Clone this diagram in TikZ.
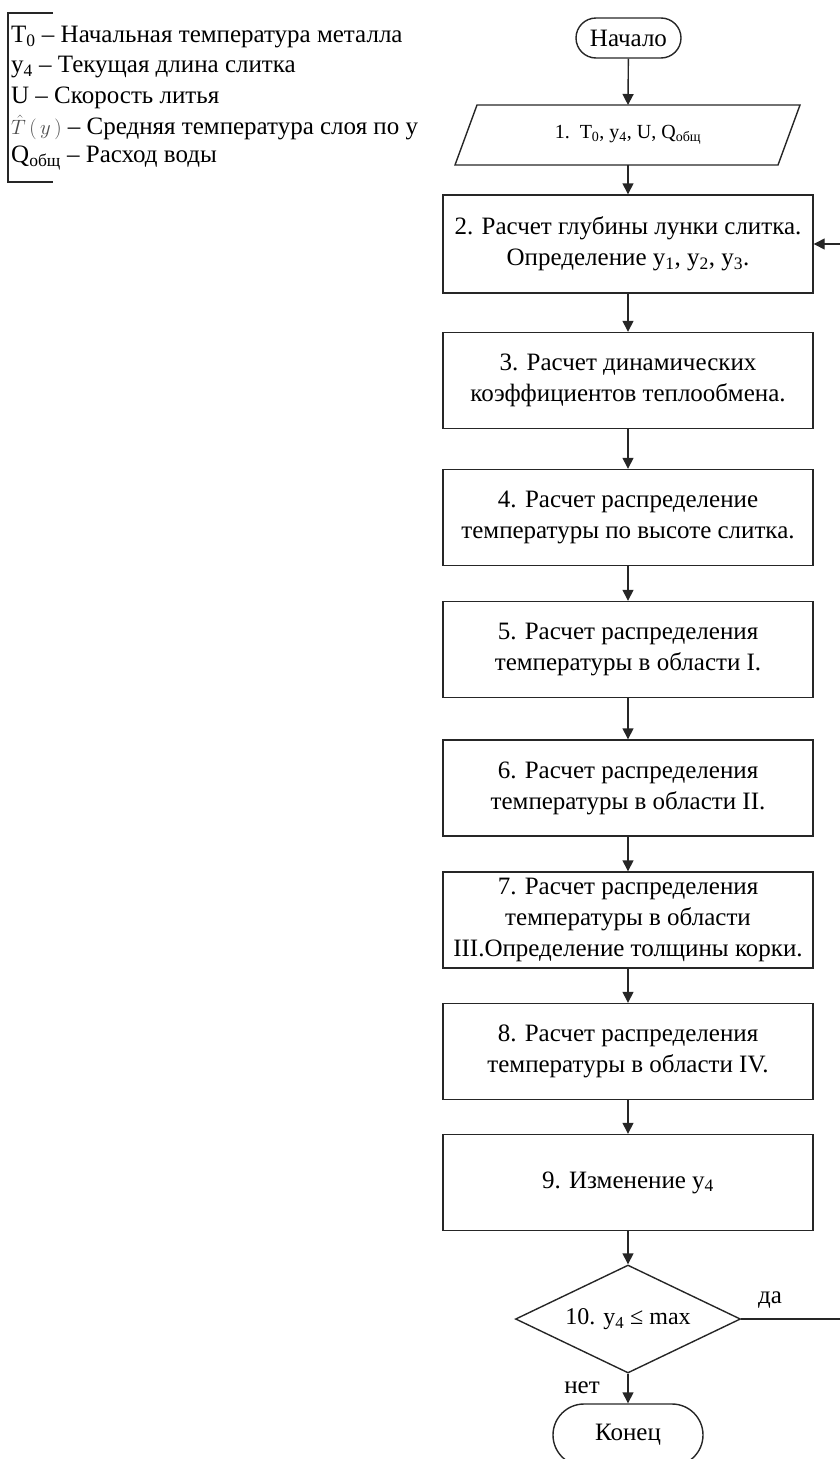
\documentclass[tikz,border=0pt]{standalone}
\usepackage{fontspec}
\setmainfont{Liberation Serif}
\usetikzlibrary{arrows.meta,shapes.geometric,shapes.misc}
\newcommand\boxfont{\fontsize{25}{31}\selectfont}
\newcommand\legfont{\fontsize{25}{30}\selectfont}
\begin{document}
\begin{tikzpicture}[x=1pt,y=-1pt,
  ln/.style={draw=black!85, line width=1.4pt},
  arr/.style={ln, -{Triangle[length=11pt,width=11pt]}},
  procbox/.style={draw=black!85, line width=1.4pt, minimum width=370pt, minimum height=96pt, inner sep=0pt, align=center, font=\boxfont},
  term/.style={draw=black!85, line width=1.4pt, rounded rectangle, inner sep=0pt, font=\boxfont},
  leg/.style={anchor=west, inner sep=0pt, font=\legfont},
  lbl/.style={inner sep=0pt, font=\boxfont}]
\useasboundingbox (0,0) rectangle (840,1459);
% legend
\node[leg] (l1) at (11,37) {T\textsubscript{0} – Начальная температура металла};
\node[leg] (l2) at (11,67) {y\textsubscript{4} – Текущая длина слитка};
\node[leg] (l3) at (11,98) {U – Скорость литья};
\node[leg] (l4) at (11,129) {\smash{\fontsize{21}{21}\selectfont\color{black!70}$\hat{T}\,(\,y\,)$} – Средняя температура слоя по у};
\node[leg] (l5) at (11,158) {Q\textsubscript{общ} – Расход воды};
\draw[ln, line width=1.2pt] (53,13) -- (8,13) -- (8,182) -- (53,182);
% flow
\node[term, minimum width=105pt, minimum height=40pt] (start) at (628.5,38) {Начало};
\draw[ln] (477,105) -- (800,105) -- (778,165) -- (455,165) -- cycle;
\node[inner sep=0pt, minimum width=300pt, minimum height=60pt, font=\fontsize{20}{24}\selectfont] (in) at (628,135) {1.\ \ T\textsubscript{0}, y\textsubscript{4}, U, Q\textsubscript{общ}};
\node[procbox, minimum height=98pt] (b2) at (628,244) {2. Расчет глубины лунки слитка.\\Определение y\textsubscript{1}, y\textsubscript{2}, y\textsubscript{3}.};
\node[procbox] (b3) at (628,380.5) {3. Расчет динамических\\коэффициентов теплообмена.};
\node[procbox] (b4) at (628,517.5) {4. Расчет распределение\\температуры по высоте слитка.};
\node[procbox] (b5) at (628,649.5) {5. Расчет распределения\\температуры в области I.};
\node[procbox] (b6) at (628,788) {6. Расчет распределения\\температуры в области II.};
\node[procbox] (b7) at (628,920) {7. Расчет распределения\\температуры в области\\III.Определение толщины корки.};
\node[procbox] (b8) at (628,1051.5) {8. Расчет распределения\\температуры в области IV.};
\node[procbox] (b9) at (628,1182.5) {9. Изменение y\textsubscript{4}};
\node[diamond, draw=black!85, line width=1.4pt, aspect=2.1, inner sep=0pt, minimum width=225pt, minimum height=108pt, font=\fontsize{24}{28}\selectfont] (d) at (628,1319) {10. y\textsubscript{4} ≤ max};
\node[term, minimum width=150pt, minimum height=62pt] (end) at (628,1435) {Конец};
\node[lbl] (yes) at (770,1300) {да};
\node[lbl] (no) at (582,1388) {нет};
\coordinate (lp1) at (850,1319);
\coordinate (lp2) at (850,244);
% connectors
\draw[arr] (start) -- (628,105);
\draw[arr] (628,165) -- (b2);
\draw[arr] (b2) -- (b3);
\draw[arr] (b3) -- (b4);
\draw[arr] (b4) -- (b5);
\draw[arr] (b5) -- (b6);
\draw[arr] (b6) -- (b7);
\draw[arr] (b7) -- (b8);
\draw[arr] (b8) -- (b9);
\draw[arr] (b9) -- (d);
\draw[arr] (d) -- (end);
\draw[arr] (d.east) -- (lp1) -- (lp2) -- (b2.east);
\end{tikzpicture}
\end{document}
